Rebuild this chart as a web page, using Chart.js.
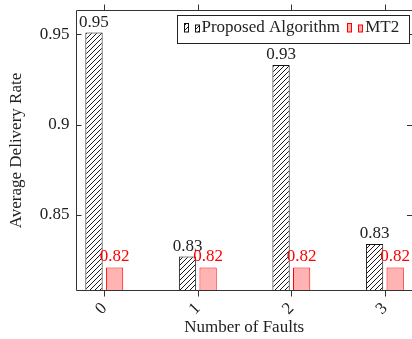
<!DOCTYPE html>
<html><head><meta charset="utf-8">
<script src="https://cdn.jsdelivr.net/npm/chart.js@4/dist/chart.umd.min.js"></script>
<style>html,body{margin:0;padding:0;background:#fff;overflow:hidden}#wrap{width:412px;height:339px;position:relative}</style>
</head><body><div id="wrap"><canvas id="c" width="412" height="339"></canvas></div>
<script>
const faults = [0, 1, 2, 3];
const proposed = [0.951, 0.827, 0.933, 0.834];
const mt2 = [0.821, 0.821, 0.821, 0.821];
const yTicks = [0.85, 0.9, 0.95];
const seriesLabels = ['Proposed Algorithm', 'MT2'];
const xTitle = 'Number of Faults';
const yTitle = 'Average Delivery Rate';

const FONT = "'Liberation Serif', 'Times New Roman', serif";
const INK = '#222';
const RED = '#ff0000';
const PINK = '#ffb3b3';

function makeHatch() {
  const s = 5, t = document.createElement('canvas');
  t.width = s; t.height = s;
  const g = t.getContext('2d');
  g.fillStyle = '#fff'; g.fillRect(0, 0, s, s);
  g.strokeStyle = '#000'; g.lineWidth = 0.9;
  g.beginPath();
  g.moveTo(-1, s + 1); g.lineTo(s + 1, -1);
  g.moveTo(-1, 1); g.lineTo(1, -1);
  g.moveTo(s - 1, s + 1); g.lineTo(s + 1, s - 1);
  g.stroke();
  return document.createElement('canvas').getContext('2d').createPattern(t, 'repeat');
}
const hatch = makeHatch();

Chart.defaults.font.family = FONT;
Chart.defaults.font.size = 17;
Chart.defaults.color = INK;

const bgPlugin = {
  id: 'bg',
  beforeDraw(chart) {
    const c = chart.ctx; c.save(); c.fillStyle = '#fff';
    c.fillRect(0, 0, chart.width, chart.height); c.restore();
  }
};

const framePlugin = {
  id: 'frame',
  afterDatasetsDraw(chart) {
    const c = chart.ctx, a = chart.chartArea;
    const xs = chart.scales.x, ys = chart.scales.y;
    c.save();
    c.strokeStyle = '#333'; c.lineWidth = 1;
    c.beginPath();
    c.moveTo(a.left, a.top); c.lineTo(a.right + 1, a.top);
    c.moveTo(a.left, a.top); c.lineTo(a.left, a.bottom);
    c.moveTo(a.left, a.bottom); c.lineTo(a.right + 1, a.bottom);
    c.moveTo(a.right + 0.5, a.top); c.lineTo(a.right + 0.5, a.bottom);
    yTicks.forEach(v => {
      const y = Math.round(ys.getPixelForValue(v)) + 0.5;
      c.moveTo(a.left, y); c.lineTo(a.left + 5, y);
      c.moveTo(a.right - 5, y); c.lineTo(a.right + 1, y);
    });
    faults.forEach(v => {
      const x = Math.round(xs.getPixelForValue(v)) + 0.5;
      c.moveTo(x, a.bottom); c.lineTo(x, a.bottom + 6);
      c.moveTo(x, a.top); c.lineTo(x, a.top - 6);
    });
    c.stroke();
    c.restore();
  }
};

const valuePlugin = {
  id: 'values',
  afterDatasetsDraw(chart) {
    const c = chart.ctx;
    c.save();
    c.font = '17px ' + FONT;
    c.textAlign = 'center'; c.textBaseline = 'alphabetic';
    chart.data.datasets.forEach((ds, di) => {
      const meta = chart.getDatasetMeta(di);
      c.fillStyle = ds.valueColor;
      meta.data.forEach((bar, i) => {
        c.fillText(ds.data[i].y.toFixed(2), bar.x, bar.y - 6);
      });
    });
    c.restore();
  }
};

const legendPlugin = {
  id: 'boxlegend',
  afterDraw(chart) {
    const c = chart.ctx, a = chart.chartArea;
    c.save();
    c.font = '17px ' + FONT;
    const ds = chart.data.datasets;
    const widths = ds.map(d => c.measureText(d.label).width);
    const boxR = a.right - 2.5, boxT = 15.5, boxB = 43.5;
    let total = 6 + 11;
    widths.forEach((w, i) => { total += 18 + w + (i < widths.length - 1 ? 7.4 : 0); });
    const boxL = Math.round(boxR - total) + 0.5;
    c.fillStyle = '#fff';
    c.fillRect(boxL, boxT, boxR - boxL, boxB - boxT);
    c.strokeStyle = '#222'; c.lineWidth = 1;
    c.strokeRect(boxL, boxT, boxR - boxL, boxB - boxT);
    let x = boxL + 6;
    const base = 32;
    ds.forEach((d, i) => {
      const icons = [[0, 8.5], [11, 7]];
      icons.forEach(([dx, h]) => {
        const ix = Math.round(x + dx) + 0.5;
        c.fillStyle = d.backgroundColor;
        c.fillRect(ix, base - h, 4, h);
        c.strokeStyle = d.borderColor; c.lineWidth = 1;
        c.strokeRect(ix, base - h, 4, h);
      });
      c.fillStyle = INK; c.textAlign = 'left'; c.textBaseline = 'alphabetic';
      c.fillText(d.label, x + 18, base);
      x += 18 + widths[i] + 7.4;
    });
    c.restore();
  }
};

new Chart(document.getElementById('c'), {
  type: 'bar',
  data: {
    datasets: [
      {
        label: seriesLabels[0],
        data: faults.map((f, i) => ({ x: f, y: proposed[i] })),
        backgroundColor: hatch, borderColor: '#111', borderWidth: 1,
        valueColor: INK
      },
      {
        label: seriesLabels[1],
        data: faults.map((f, i) => ({ x: f, y: mt2[i] })),
        backgroundColor: PINK, borderColor: RED, borderWidth: 1,
        valueColor: RED
      }
    ]
  },
  options: {
    responsive: false,
    animation: false,
    devicePixelRatio: 1,
    layout: { padding: { top: 10.5, left: 0, right: 0, bottom: 0 } },
    datasets: { bar: { categoryPercentage: 0.44, barPercentage: 0.84 } },
    plugins: { legend: { display: false }, tooltip: { enabled: false } },
    scales: {
      x: {
        type: 'linear', min: -0.297, max: 3.29, offset: false,
        grid: { display: false, drawTicks: false }, border: { display: false },
        afterBuildTicks: s => { s.ticks = faults.map(v => ({ value: v })); },
        afterFit: s => { s.height = 48.5; s.paddingLeft = 0; s.paddingRight = 0; },
        ticks: { minRotation: 45, maxRotation: 45, autoSkip: false, padding: 8, color: INK,
          callback: v => String(v) },
        title: { display: true, text: xTitle, color: INK, padding: { top: 0, bottom: 1 } }
      },
      y: {
        type: 'linear', min: 0.8082, max: 0.9632,
        grid: { display: false, drawTicks: false }, border: { display: false },
        afterBuildTicks: s => { s.ticks = yTicks.map(v => ({ value: v })); },
        afterFit: s => { s.width = 76.5; s.paddingTop = 0; s.paddingBottom = 0; },
        ticks: { padding: 7, color: INK, callback: v => String(+Number(v).toFixed(2)) },
        title: { display: true, text: yTitle, color: INK, padding: { top: 6, bottom: 0 } }
      }
    }
  },
  plugins: [bgPlugin, framePlugin, valuePlugin, legendPlugin]
});
</script>
</body></html>
